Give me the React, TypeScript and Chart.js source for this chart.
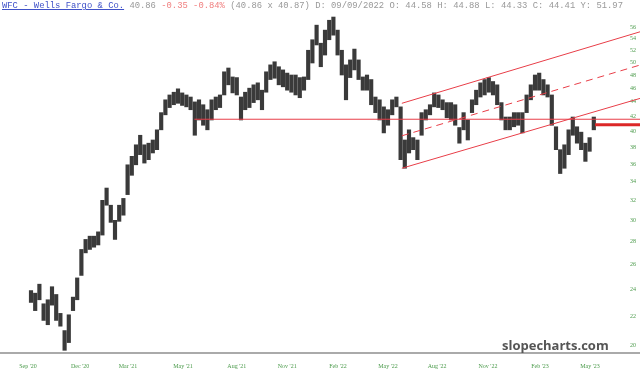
import React, { useEffect, useRef } from 'react';
import { Chart, registerables } from 'chart.js';

Chart.register(...registerables);

// Weekly price ranges of WFC (week 0 = first week of Sep 2020)
const weekHigh = [
  23.9, 23.7, 24.4, 22.9, 23.2, 24.2, 23.6, 22.2, 21.0, 22.1,
  23.4, 24.9, 27.3, 28.2, 28.5, 28.5, 28.9, 32.0, 33.3, 31.5,
  30.0, 31.5, 32.2, 35.9, 36.9, 38.3, 39.5, 38.3, 38.5, 38.9,
  40.2, 42.5, 44.3, 45.0, 45.4, 45.9, 45.3, 45.0, 44.7, 44.0,
  44.3, 43.6, 42.9, 44.3, 44.7, 45.0, 48.5, 49.1, 47.7, 47.6,
  44.7, 45.4, 46.0, 46.5, 46.8, 45.7, 48.5, 49.6, 50.1, 49.3,
  48.8, 48.3, 48.0, 48.0, 47.6, 47.7, 52.0, 53.8, 56.4, 53.2,
  55.5, 57.3, 57.9, 55.5, 52.0, 49.6, 50.4, 52.2, 50.4, 47.7,
  48.0, 47.3, 44.7, 44.3, 43.3, 42.9, 44.3, 44.7, 43.3, 38.9,
  40.2, 39.2, 38.9, 42.5, 42.9, 43.6, 45.3, 45.0, 44.3, 43.9,
  43.9, 43.6, 40.5, 42.5, 41.5, 44.3, 45.7, 46.8, 47.3, 47.6,
  47.0, 46.5, 43.9, 41.9, 41.9, 42.5, 42.5, 42.5, 45.0, 46.5,
  48.0, 48.3, 47.3, 46.5, 45.0, 40.6, 37.7, 38.3, 40.2, 41.9,
  40.6, 39.9, 38.5, 39.2, 41.9,
];
const weekLow = [
  23.0, 22.4, 23.2, 21.7, 21.4, 22.8, 21.7, 21.3, 19.7, 20.2,
  22.4, 23.2, 25.1, 27.0, 27.3, 27.5, 27.7, 28.6, 31.5, 29.8,
  28.2, 29.9, 30.5, 32.6, 34.7, 35.9, 37.1, 36.1, 36.5, 37.3,
  37.7, 40.2, 42.2, 43.2, 43.6, 43.8, 43.5, 43.3, 42.9, 39.5,
  41.5, 40.8, 40.2, 41.5, 42.9, 43.2, 45.0, 46.5, 45.3, 45.0,
  41.5, 42.9, 43.2, 43.9, 44.3, 42.9, 45.4, 47.3, 47.5, 46.5,
  46.2, 45.7, 45.4, 45.0, 44.6, 45.7, 47.3, 49.9, 52.9, 49.3,
  51.2, 53.8, 54.6, 51.2, 48.0, 44.3, 47.6, 48.8, 47.3, 45.7,
  45.7, 43.6, 42.5, 41.5, 39.8, 40.8, 42.2, 43.3, 36.5, 35.5,
  37.3, 37.7, 36.5, 39.5, 41.5, 42.2, 43.3, 43.2, 42.9, 41.8,
  41.5, 40.8, 38.5, 40.2, 38.9, 42.5, 43.6, 44.7, 45.0, 45.4,
  45.0, 43.6, 41.5, 40.2, 40.2, 40.6, 40.8, 39.8, 42.5, 44.3,
  45.7, 45.7, 45.0, 44.7, 40.8, 37.7, 34.9, 35.5, 37.1, 39.5,
  38.5, 37.7, 36.3, 37.5, 40.2,
];

const yTickValues = [20, 22, 24, 26, 28, 30, 32, 34, 36, 38, 40, 42, 44, 46, 48, 50, 52, 54, 56];
const xTickLabels = ["Sep '20", "Dec '20", "Mar '21", "May '21", "Aug '21", "Nov '21", "Feb '22", "May '22", "Aug '22", "Nov '22", "Feb '23", "May '23"];
const xTickWeeks = [-0.7, 11.7, 23.1, 36.2, 49.0, 61.0, 73.1, 85.0, 96.7, 108.8, 121.2, 133.1];

// Drawn studies
const supportLevel = 41.6;
const supportStartWeek = 38.9;
const channelWeeks = [88.3, 145];
const channelUpper = [43.8, 55.2];
const channelMid = [39.43, 49.57];
const channelLower = [35.5, 44.5];
const lastPrice = 40.86;
const lastPriceWeeks = [134.3, 145];

const X_MIN = -7.38;
const X_MAX = 145;
const Y_MIN = 19.53;
const Y_MAX = 61.18;

export default function App() {
  const ref = useRef<HTMLCanvasElement | null>(null);

  useEffect(() => {
    if (!ref.current) return;
    const red = 'rgb(232,62,72)';
    const bars = weekHigh.map((h, i) => ({ x: i, y: [weekLow[i], h] }));
    const twoPt = (xs: number[], ys: number[]) => xs.map((x, i) => ({ x, y: ys[i] }));
    const chart = new Chart(ref.current, {
      type: 'bar',
      data: {
        datasets: [
          {
            type: 'line',
            data: twoPt([supportStartWeek, X_MAX], [supportLevel, supportLevel]),
            borderColor: red, borderWidth: 1, pointRadius: 0, order: 1,
          } as any,
          {
            type: 'line',
            data: twoPt(channelWeeks, channelUpper),
            borderColor: red, borderWidth: 1, pointRadius: 0, order: 1,
          } as any,
          {
            type: 'line',
            data: twoPt(channelWeeks, channelMid),
            borderColor: red, borderWidth: 1, borderDash: [7, 5], pointRadius: 0, order: 1,
          } as any,
          {
            type: 'line',
            data: twoPt(channelWeeks, channelLower),
            borderColor: red, borderWidth: 1, pointRadius: 0, order: 1,
          } as any,
          {
            type: 'line',
            data: twoPt(lastPriceWeeks, [lastPrice, lastPrice]),
            borderColor: 'rgb(220,40,40)', borderWidth: 3, pointRadius: 0, order: 1,
          } as any,
          {
            type: 'bar',
            data: bars as any,
            backgroundColor: '#3a3a3a',
            borderWidth: 0,
            barThickness: 3.5,
            order: 2,
          } as any,
        ],
      },
      options: {
        animation: false,
        responsive: false,
        devicePixelRatio: 1,
        layout: { padding: 0 },
        plugins: { legend: { display: false }, tooltip: { enabled: false }, title: { display: false } },
        scales: {
          x: {
            type: 'linear',
            offset: false,
            min: X_MIN,
            max: X_MAX,
            grid: { display: false, offset: false },
            border: { display: true, color: '#aaa', width: 2 },
            afterBuildTicks: (s: any) => { s.ticks = xTickWeeks.map((v) => ({ value: v })); },
            afterFit: (s: any) => { s.height = 24; s.paddingLeft = 0; s.paddingRight = 0; },
            ticks: {
              autoSkip: false,
              maxRotation: 0,
              padding: 2,
              color: '#4a9a4a',
              font: { family: 'serif', size: 6 },
              callback: (_v: any, i: number) => xTickLabels[i],
            },
          },
          y: {
            type: 'logarithmic',
            position: 'right',
            min: Y_MIN,
            max: Y_MAX,
            grid: { display: false },
            border: { display: false },
            afterBuildTicks: (s: any) => { s.ticks = yTickValues.map((v) => ({ value: v })); },
            afterFit: (s: any) => { s.width = 0; s.paddingTop = 0; s.paddingBottom = 0; },
            ticks: {
              mirror: true,
              padding: -4,
              color: '#4a9a4a',
              font: { family: 'serif', size: 6 },
              callback: (v: any) => String(v),
            },
          },
        },
      } as any,
    });
    return () => chart.destroy();
  }, []);

  return (
    <div style={{ position: 'fixed', left: 0, top: 0, width: 640, height: 377, background: '#fff', overflow: 'hidden' }}>
      <canvas ref={ref} width={640} height={377} style={{ position: 'absolute', left: 0, top: 0 }} />
      <div
        style={{
          position: 'absolute', left: 2, top: 0, whiteSpace: 'pre',
          fontFamily: '"Courier New", "Liberation Mono", monospace', fontSize: 8.85, lineHeight: '12px', color: '#999',
        }}
      >
        <span style={{ color: '#3f51c8', textDecoration: 'underline' }}>WFC - Wells Fargo &amp; Co.</span>
        <span> 40.86 </span>
        <span style={{ color: '#f08080' }}>-0.35 -0.84%</span>
        <span> (40.86 x 40.87) D: 09/09/2022 O: 44.58 H: 44.88 L: 44.33 C: 44.41 Y: 51.97</span>
      </div>
      <div
        style={{
          position: 'absolute', left: 502, top: 336, whiteSpace: 'pre',
          fontFamily: '"Open Sans", sans-serif', fontWeight: 700, fontSize: 13, lineHeight: '18px', color: '#555',
        }}
      >
        slopecharts.com
      </div>
    </div>
  );
}
